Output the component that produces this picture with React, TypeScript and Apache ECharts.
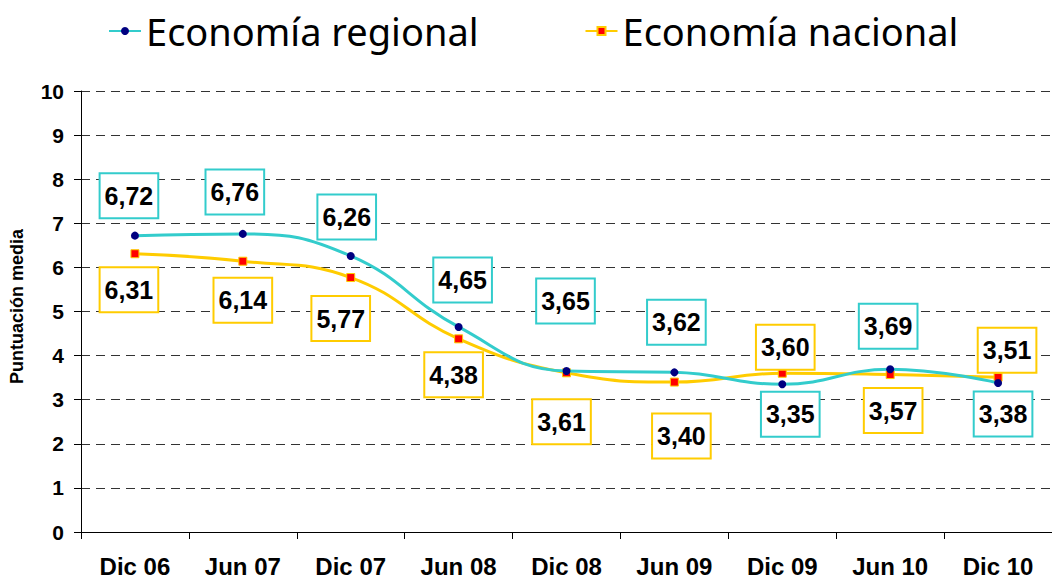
import React, { useEffect, useRef } from "react";
import * as echarts from "echarts";

const categories = ["Dic 06", "Jun 07", "Dic 07", "Jun 08", "Dic 08", "Jun 09", "Dic 09", "Jun 10", "Dic 10"];
const regional = [6.72, 6.76, 6.26, 4.65, 3.65, 3.62, 3.35, 3.69, 3.38];
const nacional = [6.31, 6.14, 5.77, 4.38, 3.61, 3.4, 3.6, 3.57, 3.51];
const yTicks = [0, 10, 1];

// label box offsets (layout, px) relative to each point
const regionalOffsets = [[-6, -40], [-8, -42], [-4, -39], [4, -47], [-1, -70], [2, -50], [8, 30], [-2, -43], [5, 31]];
const nacionalOffsets = [[-6, 36], [0, 39], [-10, 41], [-5, 36], [-5, 49], [7, 54], [3, -26], [3, 36], [9, -27]];

const fmt = (v: number) => v.toFixed(2).replace(".", ",");

export default function App() {
  const ref = useRef<HTMLDivElement>(null);
  useEffect(() => {
    document.body.style.margin = "0";
    const chart = echarts.init(ref.current!, null, { renderer: "svg" });
    const labelBase = (border: string) => ({
      show: true,
      position: "inside",
      formatter: (p: any) => fmt(p.value),
      fontFamily: "Liberation Sans",
      fontWeight: "bold",
      fontSize: 25,
      lineHeight: 25,
      color: "#000",
      backgroundColor: "#fff",
      borderColor: border,
      borderWidth: 2,
      padding: [9, 4],
    });
    const mk = (vals: number[], offs: number[][]) =>
      vals.map((v, i) => ({ value: v, label: { offset: offs[i] } }));
    chart.setOption({
      animation: false,
      legend: {
        left: 103,
        top: 7,
        itemWidth: 32,
        itemHeight: 10,
        itemGap: 106,
        textStyle: { fontFamily: "Noto Sans", fontSize: 38, color: "#000" },
        data: ["Economía regional", "Economía nacional"],
      },
      grid: { left: 79, top: 91, width: 983, bottom: 47 },
      xAxis: {
        type: "category",
        data: categories,
        boundaryGap: true,
        axisLine: { lineStyle: { color: "#000", width: 1 } },
        axisTick: { show: true, length: 7, lineStyle: { color: "#000" } },
        axisLabel: {
          fontFamily: "Liberation Sans",
          fontWeight: "bold",
          fontSize: 24,
          color: "#000",
          margin: 22,
        },
      },
      yAxis: {
        type: "value",
        min: yTicks[0],
        max: yTicks[1],
        interval: yTicks[2],
        name: "Puntuación media",
        nameLocation: "middle",
        nameGap: 55,
        nameTextStyle: { fontFamily: "Liberation Sans", fontWeight: "bold", fontSize: 18, color: "#000", padding: [0, 0, 0, 10] },
        axisLine: { show: true, lineStyle: { color: "#000", width: 1 } },
        axisTick: { show: true, length: 7, lineStyle: { color: "#000" } },
        axisLabel: {
          fontFamily: "Liberation Sans",
          fontWeight: "bold",
          fontSize: 21,
          color: "#000",
          margin: 17,
        },
        splitLine: { show: true, lineStyle: { color: "#333", type: [9, 6], width: 1 } },
      },
      series: [
        {
          name: "Economía regional",
          type: "line",
          smooth: 0.45,
          data: mk(regional, regionalOffsets),
          lineStyle: { color: "#33CCCC", width: 3 },
          itemStyle: { color: "#000080", borderColor: "#000080", borderWidth: 0 },
          symbol: "circle",
          symbolSize: 8,
          label: labelBase("#33CCCC"),
          z: 3,
        },
        {
          name: "Economía nacional",
          type: "line",
          smooth: 0.45,
          data: mk(nacional, nacionalOffsets),
          lineStyle: { color: "#FFCC00", width: 3 },
          itemStyle: { color: "#FF0000", borderColor: "#FFCC00", borderWidth: 1 },
          symbol: "rect",
          symbolSize: 8,
          label: labelBase("#FFCC00"),
          z: 2,
        },
      ],
    });
    return () => chart.dispose();
  }, []);
  return <div ref={ref} style={{ position: "absolute", left: 0, top: 0, width: 1052, height: 579 }} />;
}
